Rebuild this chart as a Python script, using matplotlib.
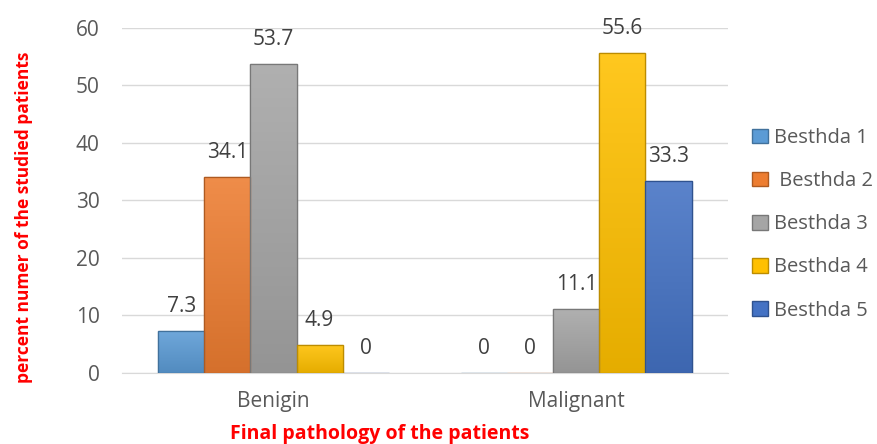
import numpy as np
import matplotlib.pyplot as plt
from matplotlib.patches import Patch
from matplotlib.colors import LinearSegmentedColormap, to_rgb

plt.rcParams['font.family'] = ['Open Sans', 'DejaVu Sans']

groups = ['Benigin', 'Malignant']
series = ['Besthda 1', ' Besthda 2', 'Besthda 3', 'Besthda 4', 'Besthda 5']
benign = [7.3, 34.1, 53.7, 4.9, 0]
malignant = [0, 0, 11.1, 55.6, 33.3]
colors = ['#5b9bd5', '#ed7d31', '#a5a5a5', '#ffc000', '#4472c4']
edges = ['#41719c', '#ae5a21', '#787878', '#bc8c00', '#2f528f']

values = np.array([benign, malignant])


def shade(c, f):
    r, g, b = to_rgb(c)
    if f > 1:
        return tuple(v + (1 - v) * (f - 1) for v in (r, g, b))
    return (r * f, g * f, b * f)


fig = plt.figure(figsize=(8.78, 4.44), dpi=100)
ax = fig.add_axes([0.139, 0.16, 0.69, 0.777])

x = np.arange(len(groups))
w = 0.152
for i in range(len(series)):
    pos = x + (i - 2) * w
    vals = values[:, i]
    bars = ax.bar(pos, vals, w, color=colors[i], edgecolor=edges[i], linewidth=0.9, zorder=3)
    # vertical gradient inside each bar: lighter at the top, darker at the bottom
    cmap = LinearSegmentedColormap.from_list('g%d' % i, [shade(colors[i], 0.9), shade(colors[i], 1.12)])
    for b in bars:
        if b.get_height() <= 0:
            continue
        bx, by = b.get_x(), b.get_y()
        im = ax.imshow(np.linspace(0, 1, 64).reshape(-1, 1), cmap=cmap, aspect='auto',
                       extent=[bx, bx + b.get_width(), by, by + b.get_height()],
                       origin='lower', zorder=3.1)
        im.set_clip_path(b)
        ax.bar(b.get_x() + w / 2, b.get_height(), w, facecolor='none',
               edgecolor=edges[i], linewidth=0.9, zorder=3.2)
    for p, v in zip(pos, vals):
        lab = '0' if v == 0 else f'{v:g}'
        ax.text(p, v + 4.3, lab, ha='center', va='center', fontsize=15,
                color='#404040', zorder=4)

ax.set_xlim(-0.5, 1.5)
ax.set_ylim(0, 60)
ax.set_yticks(range(0, 61, 10))
ax.set_xticks(x)
ax.set_xticklabels(groups)
ax.tick_params(axis='both', length=0, labelsize=15, colors='#595959')
ax.tick_params(axis='y', pad=16)
ax.tick_params(axis='x', pad=13)
ax.grid(axis='y', color='#d9d9d9', linewidth=1, zorder=0)
for s in ['left', 'right', 'top']:
    ax.spines[s].set_visible(False)
ax.spines['bottom'].set_color('#d9d9d9')

fig.text(0.027, 0.511, 'percent numer of the studied patients', rotation=90,
         ha='center', va='center', color='#ff0000', fontsize=12.5, fontweight='bold')
fig.text(0.432, 0.022, 'Final pathology of the patients', ha='center', va='center',
         color='#ff0000', fontsize=14, fontweight='bold')

handles = [Patch(facecolor=c, edgecolor=e) for c, e in zip(colors, edges)]
fig.legend(handles, series, loc='center left', bbox_to_anchor=(0.857, 0.495),
           frameon=False, fontsize=14.5, labelcolor='#595959', labelspacing=1.15,
           handlelength=0.75, handleheight=0.75, handletextpad=0.3, borderpad=0.0,
           borderaxespad=0.0)

fig.savefig('out.png', dpi=100)
